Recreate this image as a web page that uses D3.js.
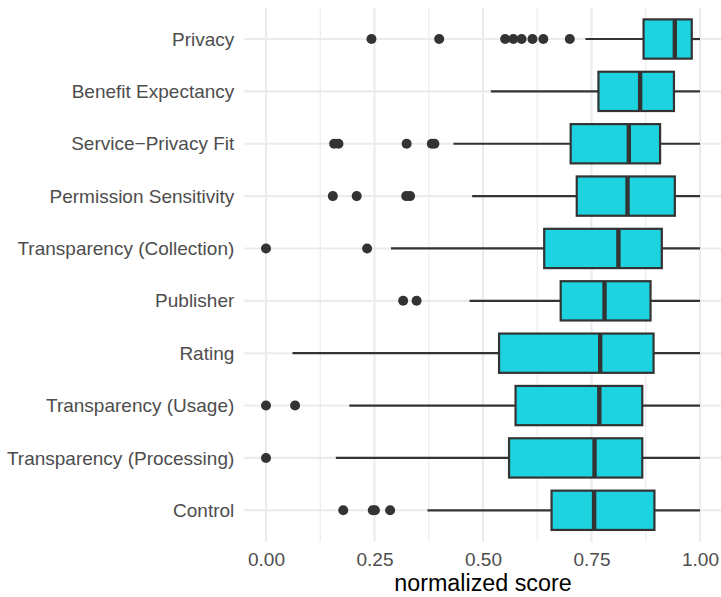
<!DOCTYPE html>
<html>
<head>
<meta charset="utf-8">
<script src="https://cdn.jsdelivr.net/npm/d3@7"></script>
<style>
  body { margin: 0; background: #fff; }
  svg text { font-family: "Liberation Sans", Arial, sans-serif; }
</style>
</head>
<body>
<div id="chart-area"></div>
<script>
let width = 721,
	height = 597;

// box stats, top row first
let categories = ["Privacy", "Benefit Expectancy", "Service\u2212Privacy Fit", "Permission Sensitivity",
	"Transparency (Collection)", "Publisher", "Rating", "Transparency (Usage)",
	"Transparency (Processing)", "Control"];
let whiskerLow = [0.736, 0.518, 0.432, 0.475, 0.288, 0.469, 0.061, 0.192, 0.161, 0.372];
let q1 = [0.870, 0.766, 0.702, 0.716, 0.641, 0.679, 0.537, 0.575, 0.560, 0.658];
let median = [0.942, 0.862, 0.836, 0.833, 0.812, 0.780, 0.770, 0.768, 0.757, 0.756];
let q3 = [0.981, 0.940, 0.908, 0.942, 0.912, 0.886, 0.893, 0.867, 0.867, 0.895];
let whiskerHigh = [1, 1, 1, 1, 1, 1, 1, 1, 1, 1];
let outliers = [
	[0.243, 0.399, 0.551, 0.570, 0.589, 0.614, 0.639, 0.700],
	[],
	[0.157, 0.167, 0.324, 0.382, 0.388],
	[0.154, 0.209, 0.323, 0.332],
	[0, 0.233],
	[0.316, 0.347],
	[],
	[0, 0.067],
	[0],
	[0.178, 0.246, 0.251, 0.286]
];
let xTicks = [0, 0.25, 0.5, 0.75, 1];
let xMinor = [0.125, 0.375, 0.625, 0.875];

let data = categories.map((c, i) => ({
	cat: c, lo: whiskerLow[i], q1: q1[i], med: median[i], q3: q3[i], hi: whiskerHigh[i], out: outliers[i]
}));

let panel = {left: 244.3, right: 721.7, top: 7.6, bottom: 541.7};

let xScale = d3.scaleLinear()
	.domain([-0.05, 1.05])
	.range([panel.left, panel.right]);

let yScale = d3.scalePoint()
	.domain(categories)
	.range([panel.top, panel.bottom])
	.padding(0.6);

let boxH = yScale.step() * 0.75;

let svg = d3.select("#chart-area")
	.append("svg")
	.attr("width", width)
	.attr("height", height);

// grid
let grid = svg.append("g").attr("stroke", "#ebebeb");
grid.selectAll(".minor").data(xMinor).enter().append("line")
	.attr("x1", d => xScale(d)).attr("x2", d => xScale(d))
	.attr("y1", panel.top).attr("y2", panel.bottom)
	.attr("stroke-width", 1.1);
grid.selectAll(".major").data(xTicks).enter().append("line")
	.attr("x1", d => xScale(d)).attr("x2", d => xScale(d))
	.attr("y1", panel.top).attr("y2", panel.bottom)
	.attr("stroke-width", 2.1);
grid.selectAll(".hmajor").data(categories).enter().append("line")
	.attr("x1", panel.left).attr("x2", panel.right)
	.attr("y1", d => yScale(d)).attr("y2", d => yScale(d))
	.attr("stroke-width", 2.1);

// axes
let xAxis = d3.axisBottom(xScale).tickValues(xTicks).tickFormat(d3.format(".2f")).tickSize(0).tickPadding(11);
let xg = svg.append("g")
	.attr("transform", "translate(0," + panel.bottom + ")")
	.call(xAxis);
xg.select(".domain").remove();
xg.selectAll("text").attr("fill", "#4d4d4d").style("font-size", "19px");

let yAxis = d3.axisLeft(yScale).tickSize(0).tickPadding(10);
let yg = svg.append("g")
	.attr("transform", "translate(" + panel.left + ",0)")
	.call(yAxis);
yg.select(".domain").remove();
yg.selectAll("text").attr("fill", "#4d4d4d").style("font-size", "19px");

svg.append("text")
	.attr("x", (panel.left + panel.right) / 2)
	.attr("y", 591)
	.attr("text-anchor", "middle")
	.attr("fill", "#000")
	.style("font-size", "23.3px")
	.text("normalized score");

// boxes
let rows = svg.selectAll(".box")
	.data(data)
	.enter()
	.append("g")
	.attr("class", "box")
	.attr("transform", d => "translate(0," + yScale(d.cat) + ")");

rows.append("line")
	.attr("x1", d => xScale(d.lo)).attr("x2", d => xScale(d.q1))
	.attr("stroke", "#333333").attr("stroke-width", 2.2);
rows.append("line")
	.attr("x1", d => xScale(d.q3)).attr("x2", d => xScale(d.hi))
	.attr("stroke", "#333333").attr("stroke-width", 2.2);
rows.append("rect")
	.attr("x", d => xScale(d.q1))
	.attr("width", d => xScale(d.q3) - xScale(d.q1))
	.attr("y", -boxH / 2)
	.attr("height", boxH)
	.attr("fill", "#1dd3e0")
	.attr("stroke", "#333333")
	.attr("stroke-width", 2.2);
rows.append("line")
	.attr("x1", d => xScale(d.med)).attr("x2", d => xScale(d.med))
	.attr("y1", -boxH / 2).attr("y2", boxH / 2)
	.attr("stroke", "#333333").attr("stroke-width", 4.4);

rows.selectAll("circle")
	.data(d => d.out)
	.enter()
	.append("circle")
	.attr("cx", d => xScale(d))
	.attr("cy", 0)
	.attr("r", 5)
	.attr("fill", "#333333");
</script>
</body>
</html>
